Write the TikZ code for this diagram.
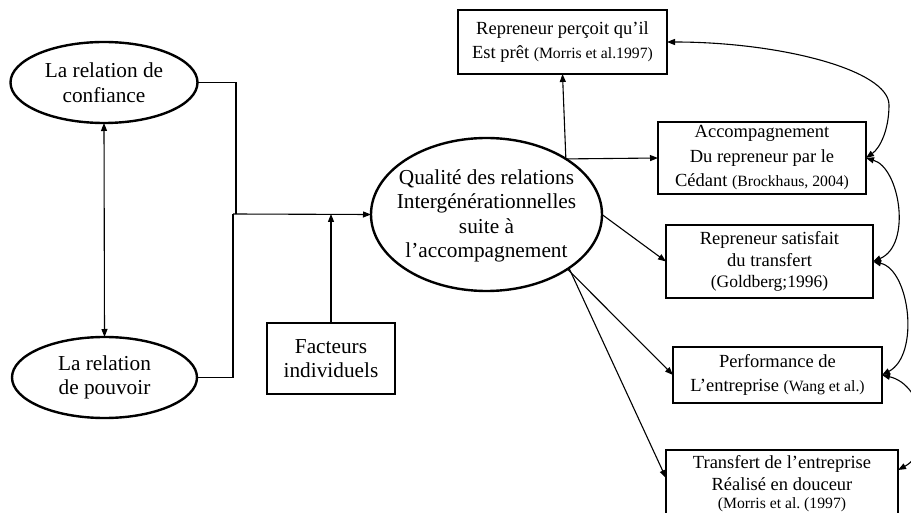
\documentclass[tikz,border=0pt]{standalone}
\usepackage{fontspec}
\setmainfont{Liberation Serif}
\usetikzlibrary{arrows.meta,shapes.geometric,calc}
\frenchspacing
\newcommand\ellfont{\fontsize{21.3}{24.5}\selectfont}
\newcommand\boxfont{\fontsize{18.5}{24.5}\selectfont}
\newcommand\citefont{\fontsize{15.7}{20}\selectfont}
\begin{document}
\begin{tikzpicture}[x=1pt,y=-1pt,
  line width=1.1pt,
  ell/.style={ellipse,draw,line width=2.4pt,inner sep=0pt,outer sep=0pt,align=center,font=\ellfont},
  bx/.style={rectangle,draw,line width=1.1pt,inner sep=0pt,outer sep=0pt,align=center,font=\boxfont},
  txt/.style={inner sep=0pt,align=center,font=\ellfont},
  tip/.style={-{Triangle[length=8pt,width=6pt]}},
  tips/.style={{Triangle[length=8pt,width=6pt]}-{Triangle[length=8pt,width=6pt]}}]
\clip (0,0) rectangle (911,513);
\fill[white] (0,0) rectangle (911,513);

% left-hand relations
\node[ell,minimum width=187pt,minimum height=81pt] (conf) at (104,82.5) {La relation de\\confiance};
\node[ell,minimum width=185pt,minimum height=81pt] (pouv) at (104.5,377.5) {La relation\\de pouvoir};
\node[bx,font=\ellfont,minimum width=128pt,minimum height=71pt] (fact) at (331,358.5) {Facteurs\\individuels};

% central construct
\node[ell,minimum width=231pt,minimum height=153pt] (central) at (486.5,214.5) {};
\node[txt] (centraltxt) at (486.5,216) {Qualité des relations\\Intergénérationnelles\\suite à\\l’accompagnement};

% outcomes
\node[bx,minimum width=209pt,minimum height=64pt] (top) at (562.5,42) {Repreneur perçoit qu’il\\Est prêt {\citefont (Morris et al.1997)}};
\node[bx,minimum width=208pt,minimum height=72pt] (acc) at (762,158) {Accompagnement\\Du repreneur par le\\Cédant {\citefont (Brockhaus, 2004)}};
\node[bx,font=\fontsize{18.5}{21.5}\selectfont,minimum width=207pt,minimum height=73pt] (sat) at (769.5,261.5) {Repreneur satisfait\\du transfert\\{\fontsize{17.5}{21.5}\selectfont(Goldberg;1996)}};
\node[bx,minimum width=209pt,minimum height=56pt] (perf) at (777.5,375) {Performance de\\L’entreprise {\citefont (Wang et al.)}};
\node[bx,font=\fontsize{18.5}{22}\selectfont,minimum width=232pt,minimum height=74pt] (trans) at (782,487) {};
\node[inner sep=0pt,align=center,font=\fontsize{18.5}{22}\selectfont,anchor=north] (transtxt) at (782,455) {Transfert de l’entreprise\\Réalisé en douceur\\[-4pt]{\citefont (Morris et al. (1997)}};

% junctions
\coordinate (joinA) at (236,214);
\coordinate (joinB) at (233,214);

% connectors on the left
\draw[tips] (conf.south) -- (pouv.north);
\draw (conf.east) -| (joinA);
\draw (pouv.east) -| (joinB);
\draw[tip] (joinB) -- (central.west);
\draw[tip] (fact.north) -- (fact.north |- joinB);

% connectors from the central construct
\draw[tip] (central.35) -- (top.south);
\draw[tip] (central.35) -- (acc.west);
\draw[tip] (central.east) -- (sat.west);
\draw[tip] (central.-34) -- (perf.west);
\draw[tip] (central.-33) -- ($(trans.west)+(0,-9)$);

% links between the outcomes
\draw[tips] (top.east) .. controls (780,42) and (889,70) .. (889,105) .. controls (889,130) and (880,148) .. (acc.east);
\draw[tips] (acc.east) .. controls (900,168) and (912,245) .. (sat.east);
\draw[tips] (sat.east) .. controls (910,270) and (920,355) .. (perf.east);
\draw[tips] (perf.east) .. controls (925,385) and (935,450) .. ($(trans.east)+(0,-17)$);
\end{tikzpicture}
\end{document}
